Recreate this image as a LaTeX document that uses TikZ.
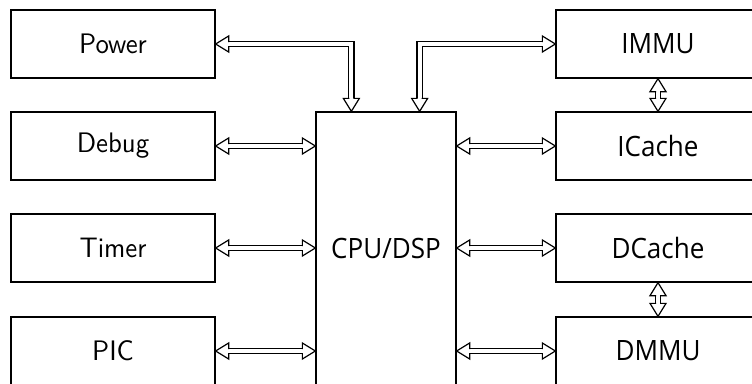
\documentclass[tikz,border=0pt]{standalone}
\usepackage{fontspec}
\usepackage{graphicx}
\newfontfamily\rightfont{Open Sans}
\newfontfamily\leftfont{lmsans10-regular.otf}
\usetikzlibrary{decorations.markings}
\newcommand{\lefttxt}[1]{\scalebox{0.95}[1]{\fontsize{28.2}{30}\selectfont\leftfont #1}}
\newcommand{\righttxt}[1]{\scalebox{0.93}[1]{\fontsize{28}{30}\selectfont\rightfont #1}}
\tikzset{
  blk/.style={draw, line width=1.3pt, inner sep=0pt, minimum width=204pt, minimum height=68pt},
  cpubox/.style={draw, line width=1.3pt, inner sep=0pt, minimum width=140pt, minimum height=273pt},
  headtip/.pic={
    \fill[white] (-13,8) -- (0,0) -- (-13,-8) -- cycle;
    \draw[line width=1.2pt, line join=miter] (-13,2) -- (-13,8) -- (0,0) -- (-13,-8) -- (-13,-2);
  },
  dbl/.style={
    postaction={draw, double=white, line width=1.2pt, double distance=4pt, line join=miter,
      shorten >=13pt, shorten <=13pt},
    postaction={decorate, decoration={markings,
      mark=at position 0 with {\pic[transform shape, rotate=180]{headtip};},
      mark=at position 1 with {\pic[transform shape]{headtip};}}}}
}
\begin{document}
\begin{tikzpicture}[x=1pt, y=-1pt]
\useasboundingbox (0,0) rectangle (752,383);
\clip (0,0) rectangle (752,383);
% left column
\node[blk] (power) at (113,44) {\lefttxt{Power}};
\node[blk] (debug) at (113,146) {\lefttxt{Debug}};
\node[blk] (timer) at (113,248) {\lefttxt{Timer}};
\node[blk] (pic) at (113,351) {\lefttxt{PIC}};
% centre
\node[cpubox] (cpu) at (386,248.5) {\righttxt{CPU/DSP}};
% right column
\node[blk] (immu) at (658,44) {\righttxt{IMMU}};
\node[blk] (icache) at (658,146) {\righttxt{ICache}};
\node[blk] (dcache) at (658,248) {\righttxt{DCache}};
\node[blk] (dmmu) at (658,351) {\righttxt{DMMU}};
% connectors
\path[dbl] (power.east) -| ([xshift=36pt]cpu.north west);
\path[dbl] (immu.west) -| ([xshift=-37pt]cpu.north east);
\path[dbl] (debug.east) -- (debug.east -| cpu.west);
\path[dbl] (timer.east) -- (timer.east -| cpu.west);
\path[dbl] (pic.east) -- (pic.east -| cpu.west);
\path[dbl] (cpu.east |- icache.west) -- (icache.west);
\path[dbl] (cpu.east |- dcache.west) -- (dcache.west);
\path[dbl] (cpu.east |- dmmu.west) -- (dmmu.west);
\path[dbl] (immu.south) -- (icache.north);
\path[dbl] (dcache.south) -- (dmmu.north);
\end{tikzpicture}
\end{document}
